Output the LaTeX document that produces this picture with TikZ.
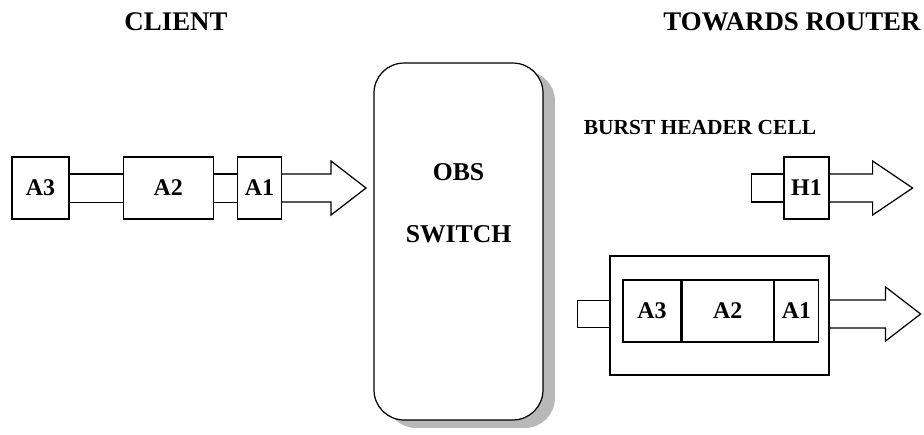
\documentclass[tikz,border=0pt]{standalone}
\usepackage{fontspec}
\setmainfont{Liberation Serif}
\usetikzlibrary{positioning,calc,shadows}

% fat open arrow leaving a node to the right
\newcommand{\fatarrow}[3]{%
  \draw[line width=0.7pt] ($(#1)+(0,-14)$) -- ++(#2,0) -- ++(0,-13) -- ++(#3,27) -- ++(-#3,27) -- ++(0,-13) -- ++(-#2,0);}

\begin{document}
\begin{tikzpicture}[
    x=0.02cm, y=-0.02cm,
    cell/.style={rectangle, draw, line width=0.7pt, minimum height=1.24cm, inner sep=0pt, font=\fontsize{13.6}{16}\selectfont\bfseries},
    title/.style={font=\fontsize{15.3}{18}\selectfont\bfseries, inner sep=0pt},
    pipe/.style={line width=0.7pt, double distance=0.54cm},
    switch/.style={rectangle, draw, line width=0.7pt, rounded corners=0.6cm, fill=white, minimum width=3.38cm, minimum height=7.14cm,
        drop shadow={shadow xshift=0.24cm, shadow yshift=-0.16cm, fill=black!28, opacity=1}}
]
\useasboundingbox (0,0) rectangle (924,434);

% Titles
\node[title] (client) at (176,22) {CLIENT};
\node[title] (router) at (792,22) {TOWARDS ROUTER};

% Client side
\node[cell, minimum width=1.14cm] (a3) at (40.5,188) {A3};
\node[cell, minimum width=1.8cm, right=1.06cm of a3] (a2) {A2};
\node[cell, minimum width=0.88cm, right=0.46cm of a2] (a1) {A1};
\draw[pipe] (a3) -- (a2);
\draw[pipe] (a2) -- (a1);
\fatarrow{a1.east}{49}{35}

% Switch
\node[switch] (obs) at (458.5,241.5) {};
\node[font=\fontsize{14.6}{17}\selectfont\bfseries] (obstxt) at (458.5,172) {OBS};
\node[font=\fontsize{14.6}{17}\selectfont\bfseries] (swtxt) at (458.5,234) {SWITCH};

% Burst header cell
\node[font=\fontsize{12.2}{15}\selectfont\bfseries, inner sep=0pt] (bhc) at (700,128) {BURST HEADER CELL};
\node[cell, minimum width=0.9cm] (h1) at (806.5,188) {H1};
\draw[line width=0.7pt] ($(h1.west)+(-32,-14)$) rectangle ($(h1.west)+(0,14)$);
\fatarrow{h1.east}{43}{40}

% Burst
\node[rectangle, draw, line width=0.7pt, minimum width=4.38cm, minimum height=2.38cm] (frame) at (719.5,315.5) {};
\node[cell, minimum width=1.16cm] (b3) at (652,311) {A3};
\node[cell, minimum width=1.82cm, right=0pt of b3] (b2) {A2};
\node[cell, minimum width=0.88cm, right=0pt of b2] (b1) {A1};
\draw[line width=0.7pt] ($(frame.west)+(-32,-15)$) rectangle ($(frame.west)+(0,12)$);
\fatarrow{$(frame.east)+(0,-1.5)$}{56}{35}

\end{tikzpicture}
\end{document}
